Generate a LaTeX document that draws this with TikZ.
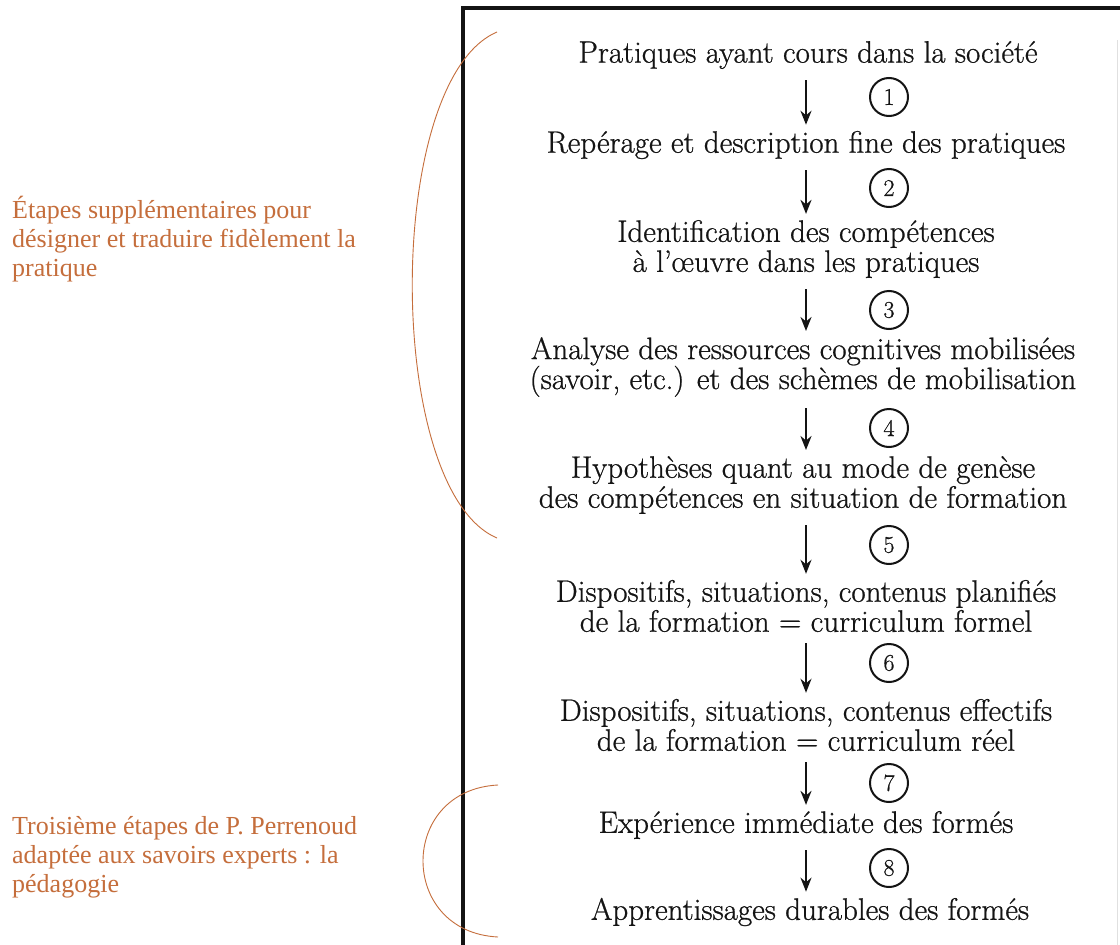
\documentclass[tikz,border=0pt]{standalone}
\usepackage{fontspec}
\newfontfamily\lab{Liberation Serif}
\newfontfamily\stg{Latin Modern Roman}[FakeBold=0.7]
\usetikzlibrary{arrows.meta}
\definecolor{orng}{RGB}{197,110,60}
\definecolor{ink}{RGB}{20,20,20}
\begin{document}
\begin{tikzpicture}[x=1pt,y=-1pt,
 stage/.style={align=center,font=\stg\fontsize{31}{30}\selectfont,text=ink,inner sep=0pt},
 num/.style={circle,draw=ink,line width=2pt,minimum size=38pt,inner sep=0pt,font=\stg\fontsize{24}{24}\selectfont,text=ink},
 flow/.style={-{Stealth[length=14pt,width=11pt]},line width=2.2pt,draw=ink,shorten <=11pt,shorten >=6pt},
 note/.style={align=left,anchor=north west,font=\lab\fontsize{26}{29}\selectfont,text=orng,inner sep=0pt},
 bracket/.style={draw=orng,line width=0.9pt}]
\useasboundingbox (0,0) rectangle (1120,945);
\fill[white] (0,0) rectangle (1120,945);
% frame
\coordinate (fa) at (463,945);
\coordinate (fb) at (463,8);
\coordinate (fc) at (1120,8);
\draw[line width=3.2pt,draw=ink] (fa) -- (fb) -- (fc);
\coordinate (ra) at (1117,40);
\coordinate (rb) at (1117,945);
\draw[line width=1pt,draw=black!12] (ra) -- (rb);
% stages
\node[stage] (t1) at (808,55) {Pratiques ayant cours dans la société};
\node[stage] (t2) at (806,145) {Repérage et description fine des pratiques};
\node[stage] (t3) at (806,249) {Identification des compétences\\à l’œuvre dans les pratiques};
\node[stage] (t4) at (803,367) {Analyse des ressources cognitives mobilisées\\(savoir, etc.) et des schèmes de mobilisation};
\node[stage] (t5) at (803,485) {Hypothèses quant au mode de genèse\\des compétences en situation de formation};
\node[stage] (t6) at (806,606) {Dispositifs, situations, contenus planifiés\\de la formation = curriculum formel};
\node[stage] (t7) at (806,725) {Dispositifs, situations, contenus effectifs\\de la formation = curriculum réel};
\node[stage] (t8) at (806,825) {Expérience immédiate des formés};
\node[stage] (t9) at (810,912) {Apprentissages durables des formés};
% arrows
\coordinate (ax) at (806,0);
\foreach \i/\j in {1/2,2/3,3/4,4/5,5/6,6/7,7/8,8/9}
  \draw[flow] (t\i.south -| ax) -- (t\j.north -| ax);
% numbers
\node[num] (c1) at (889,97) {1};
\node[num] (c2) at (889,188) {2};
\node[num] (c3) at (889,310) {3};
\node[num] (c4) at (889,428) {4};
\node[num] (c5) at (889,545) {5};
\node[num] (c6) at (889,663) {6};
\node[num] (c7) at (889,783) {7};
\node[num] (c8) at (889,868) {8};
% orange brackets
\coordinate (b1s) at (497,32);
\coordinate (b1e) at (497,538);
\draw[bracket] (b1s) .. controls (384,80) and (384,490) .. (b1e);
\coordinate (b2s) at (498,785);
\coordinate (b2e) at (498,937);
\draw[bracket] (b2s) .. controls (398,790) and (398,932) .. (b2e);
% notes
\node[note] (n1) at (12,196) {Étapes supplémentaires pour\\désigner et traduire fidèlement la\\pratique};
\node[note] (n2) at (12,816) {Troisième étapes de P. Perrenoud\\adaptée aux savoirs experts : la\\pédagogie};
\end{tikzpicture}
\end{document}
